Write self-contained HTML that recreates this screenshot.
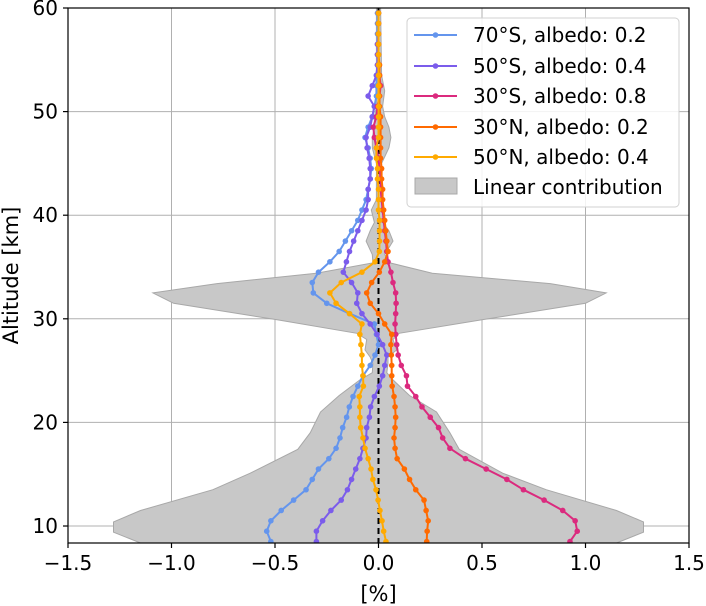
<!DOCTYPE html>
<html><head><meta charset="utf-8"><style>
html,body{margin:0;padding:0;background:#fff;}
svg{display:block;font-family:"DejaVu Sans","Liberation Sans",sans-serif;}
</style></head><body>
<svg id="chart" width="706" height="606" xmlns="http://www.w3.org/2000/svg"></svg>
<script>
const altitudes = [8.5,9.5,10.5,11.5,12.5,13.5,14.5,15.5,16.5,17.5,18.5,19.5,20.5,21.5,22.5,23.5,24.5,25.5,26.5,27.5,28.5,29.5,30.5,31.5,32.5,33.5,34.5,35.5,36.5,37.5,38.5,39.5,40.5,41.5,42.5,43.5,44.5,45.5,46.5,47.5,48.5,49.5,50.5,51.5,52.5,53.5,54.5,55.5,56.5,57.5,58.5,59.5];
const s70S = [-0.52,-0.54,-0.52,-0.47,-0.41,-0.35,-0.32,-0.29,-0.24,-0.205,-0.186,-0.173,-0.154,-0.141,-0.123,-0.10,-0.075,-0.04,-0.017,0.0,-0.01,-0.02,-0.14,-0.25,-0.315,-0.32,-0.29,-0.235,-0.19,-0.16,-0.13,-0.10,-0.08,-0.06,-0.05,-0.04,-0.035,-0.04,-0.05,-0.065,-0.05,-0.03,-0.02,-0.01,-0.01,-0.01,-0.005,-0.005,-0.005,-0.005,-0.005,-0.005];
const s50S = [-0.30,-0.30,-0.27,-0.23,-0.18,-0.15,-0.13,-0.11,-0.09,-0.075,-0.06,-0.057,-0.044,-0.038,-0.02,0.004,0.02,0.03,0.04,0.02,-0.007,-0.04,-0.08,-0.105,-0.10,-0.13,-0.17,-0.155,-0.14,-0.12,-0.10,-0.08,-0.06,-0.05,-0.05,-0.04,-0.04,-0.045,-0.055,-0.06,-0.04,-0.03,-0.02,-0.05,-0.03,-0.01,-0.005,-0.005,-0.005,0,0,0];
const s30S = [0.925,0.96,0.95,0.89,0.80,0.70,0.62,0.52,0.42,0.345,0.31,0.29,0.25,0.21,0.18,0.14,0.135,0.11,0.095,0.088,0.083,0.08,0.083,0.085,0.083,0.07,0.06,0.046,0.04,0.036,0.03,0.025,0.02,0.015,0.01,0.01,0.005,0.0,-0.01,-0.02,-0.025,-0.01,-0.005,0.005,0.01,0.005,0,0,0,0,0,0];
const s30N = [0.233,0.235,0.24,0.23,0.22,0.18,0.15,0.125,0.09,0.08,0.075,0.08,0.083,0.08,0.075,0.066,0.064,0.064,0.062,0.06,0.064,0.03,0.0,-0.04,-0.057,-0.033,0.004,0.03,0.046,0.04,0.035,0.03,0.025,0.02,0.02,0.015,0.015,0.01,0.01,0.01,0.01,0.01,0.005,0.005,0.005,0.005,0.005,0,0,0,0,0];
const s50N = [0.036,0.025,0.017,0.007,-0.002,-0.012,-0.027,-0.036,-0.05,-0.065,-0.075,-0.086,-0.09,-0.09,-0.093,-0.073,-0.075,-0.08,-0.08,-0.085,-0.09,-0.08,-0.14,-0.205,-0.235,-0.18,-0.08,-0.017,0.004,0.005,0.005,0.005,0.0,0.0,0.0,-0.005,-0.005,-0.01,-0.01,0.0,0,0,0,0,0,0,0,0,0,0,0,0];
const linAlt = [8.36,9.4,10.4,11.5,13.5,15.1,17.4,19,21,22.6,24.1,24.8,25.7,26.3,27,28,28.6,29.9,31.5,32.5,33.4,34.4,35.4,36.2,37.5,38.5,39.3,40.5,41.5,45,46.5,47.5,48.5,49.5,50.5,52,53.5,60];
const linLo = [-1.15,-1.28,-1.28,-1.15,-0.80,-0.62,-0.39,-0.33,-0.28,-0.19,-0.09,-0.03,-0.027,-0.04,-0.065,-0.057,-0.105,-0.49,-0.99,-1.09,-0.78,-0.3,-0.027,-0.03,-0.06,-0.04,-0.02,-0.035,-0.01,-0.01,-0.03,-0.03,-0.02,-0.02,-0.01,-0.01,-0.01,-0.01];
const linHi = [1.15,1.28,1.28,1.15,0.81,0.6,0.39,0.345,0.28,0.15,0.07,0.04,0.046,0.046,0.088,0.07,0.10,0.5,1.0,1.10,0.83,0.26,0.056,0.03,0.07,0.05,0.02,0.03,0.015,0.015,0.05,0.06,0.05,0.03,0.02,0.03,0.015,0.01];
const xTicks = [-1.5,-1.0,-0.5,0.0,0.5,1.0,1.5];
const xTickLabels = ["\u22121.5","\u22121.0","\u22120.5","0.0","0.5","1.0","1.5"];
const yTicks = [10,20,30,40,50,60];
const seriesNames = ["70°S, albedo: 0.2","50°S, albedo: 0.4","30°S, albedo: 0.8","30°N, albedo: 0.2","50°N, albedo: 0.4"];
const seriesData = [s70S,s50S,s30S,s30N,s50N];
const seriesColors = ["#6495ED","#7B5CEB","#DB2A7E","#FF6A00","#FFAA00"];
const seriesKeys = ["70s","50s","30s","30n","50n"];

const NS="http://www.w3.org/2000/svg";
const svg=document.getElementById('chart');
const L=68,R=689,T=8,B=543;
const x=v=>L+(v+1.5)/3*(R-L);
const y=a=>B-(a-8.36)/(60-8.36)*(B-T);
function mk(tag,attrs,parent){const e=document.createElementNS(NS,tag);for(const k in attrs)e.setAttribute(k,attrs[k]);(parent||svg).appendChild(e);return e;}

const defs=mk('defs',{});
const cp=mk('clipPath',{id:'clip'},defs);
mk('rect',{x:L,y:T,width:R-L,height:B-T},cp);

xTicks.forEach((t,i)=>{
  const g=mk('line',{x1:x(t),x2:x(t),y1:T,y2:B,stroke:'#b0b0b0','stroke-width':1});
  
  
});
yTicks.forEach(t=>{
  const g=mk('line',{x1:L,x2:R,y1:y(t),y2:y(t),stroke:'#b0b0b0','stroke-width':1});
  
  
});

const plot=mk('g',{'clip-path':'url(#clip)'});



let d='';
linAlt.forEach((a,i)=>{d+=(i?'L':'M')+x(linHi[i]).toFixed(1)+','+y(a).toFixed(1);});
for(let i=linAlt.length-1;i>=0;i--){d+='L'+x(linLo[i]).toFixed(1)+','+y(linAlt[i]).toFixed(1);}
d+='Z';
const fill=mk('path',{d:d,fill:'#c8c8c8',stroke:'#a8a8a8','stroke-width':1},plot);



const zl=mk('line',{x1:x(0),x2:x(0),y1:T,y2:B,stroke:'#000','stroke-width':2,'stroke-dasharray':'6,4'},plot);



seriesData.forEach((vals,si)=>{
  const g=mk('g',{},plot);
  
  
  const pts=vals.map((v,i)=>x(v).toFixed(1)+','+y(altitudes[i]).toFixed(1)).join(' ');
  const pl=mk('polyline',{points:pts,fill:'none',stroke:seriesColors[si],'stroke-width':2,'stroke-linejoin':'round'},g);
  
  
  vals.forEach((v,i)=>{
    const c=mk('circle',{cx:x(v),cy:y(altitudes[i]),r:2.8,fill:seriesColors[si]},g);
    
    
  });
});

const frame=mk('rect',{x:L,y:T,width:R-L,height:B-T,fill:'none',stroke:'#000','stroke-width':1.2});



xTicks.forEach((t,i)=>{
  const tk=mk('line',{x1:x(t),x2:x(t),y1:B,y2:B+5,stroke:'#000','stroke-width':1.2});
  
  
  const tx=mk('text',{x:x(t),y:B+27,'font-size':20,'text-anchor':'middle',fill:'#000'});
  tx.textContent=xTickLabels[i];
  
  
});
yTicks.forEach(t=>{
  const tk=mk('line',{x1:L-5,x2:L,y1:y(t),y2:y(t),stroke:'#000','stroke-width':1.2});
  
  
  const tx=mk('text',{x:L-10,y:y(t)+7,'font-size':20,'text-anchor':'end',fill:'#000'});
  tx.textContent=String(t);
  
  
});

const xt=mk('text',{x:(L+R)/2,y:601,'font-size':21,'text-anchor':'middle',fill:'#000'});
xt.textContent='[%]';


const yt=mk('text',{x:0,y:0,'font-size':21,'text-anchor':'middle',fill:'#000',transform:'translate(18,'+((T+B)/2)+') rotate(-90)'});
yt.textContent='Altitude [km]';



const lg=mk('g',{});


mk('rect',{x:407,y:18,width:272,height:189,rx:4,fill:'#fff','fill-opacity':0.85,stroke:'#d0d0d0','stroke-width':1},lg);
const ly=[35,66,96,127,157];
seriesNames.forEach((n,i)=>{
  const e=mk('g',{},lg);
  
  
  mk('line',{x1:414,x2:457,y1:ly[i],y2:ly[i],stroke:seriesColors[i],'stroke-width':2},e);
  mk('circle',{cx:435.5,cy:ly[i],r:2.8,fill:seriesColors[i]},e);
  const t=mk('text',{x:473,y:ly[i]+7,'font-size':20,fill:'#000'},e);
  t.textContent=n;
});
const le=mk('g',{},lg);


mk('rect',{x:415,y:178,width:42,height:16,fill:'#c8c8c8',stroke:'#a8a8a8'},le);
const lt=mk('text',{x:473,y:194,'font-size':20,fill:'#000'},le);
lt.textContent='Linear contribution';
</script>
</body></html>
